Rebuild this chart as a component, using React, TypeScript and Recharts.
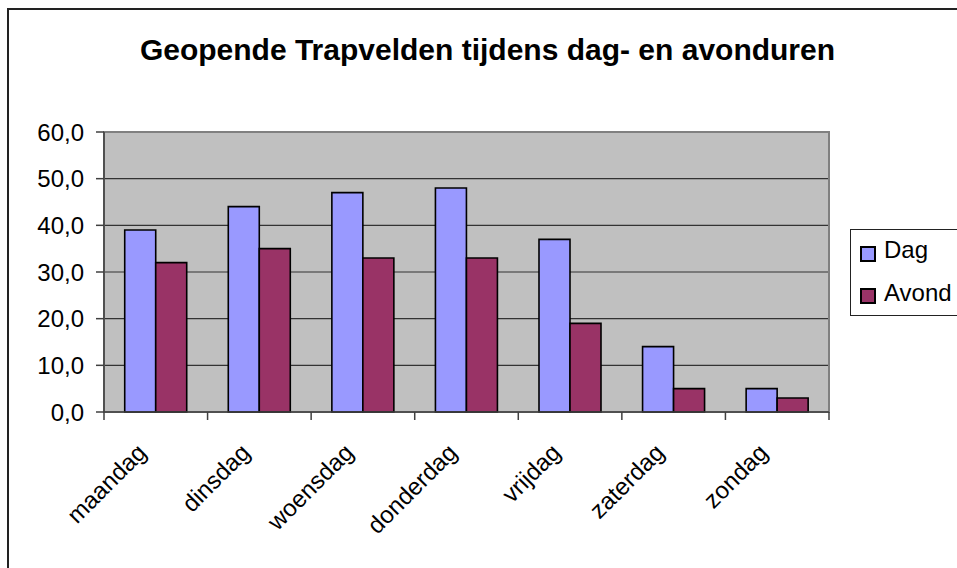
import React from "react";
import {
  BarChart,
  Bar,
  XAxis,
  YAxis,
  CartesianGrid,
  ReferenceArea,
} from "recharts";

const days = [
  "maandag",
  "dinsdag",
  "woensdag",
  "donderdag",
  "vrijdag",
  "zaterdag",
  "zondag",
];
const dagValues = [39, 44, 47, 48, 37, 14, 5];
const avondValues = [32, 35, 33, 33, 19, 5, 3];
const yTicks = [0, 10, 20, 30, 40, 50, 60];

const FONT = "'Liberation Sans', Arial, sans-serif";
const DAG_COLOR = "#9999FF";
const AVOND_COLOR = "#993366";

const rows = days.map((d, i) => ({
  dag: d,
  Dag: dagValues[i],
  Avond: avondValues[i],
}));

const DayTick = (props: any) => {
  const { x, y, payload } = props;
  const half = payload.offset || 0;
  const isLast = payload.value === days[days.length - 1];
  const tx = x - 8;
  const ty = y + 42;
  return (
    <g>
      <line x1={x - half} x2={x - half} y1={y} y2={y + 8} stroke="#404040" strokeWidth={1.5} />
      {isLast && (
        <line x1={x + half} x2={x + half} y1={y} y2={y + 8} stroke="#404040" strokeWidth={1.5} />
      )}
      <text
        x={tx}
        y={ty}
        textAnchor="end"
        fontSize={24}
        fontFamily={FONT}
        fill="#000"
        transform={`rotate(-45 ${tx} ${ty})`}
      >
        {payload.value}
      </text>
    </g>
  );
};

const fmt = (v: number) => v.toFixed(1).replace(".", ",");

export default function App() {
  return (
    <div
      style={{
        position: "relative",
        width: 957,
        height: 568,
        overflow: "hidden",
        background: "#fff",
        fontFamily: FONT,
      }}
    >
      <style>{"html,body{margin:0;padding:0;overflow:hidden;}"}</style>
      {/* chart frame, only top and left edges are in view */}
      <div
        style={{
          position: "absolute",
          left: 7,
          top: 8,
          width: 1200,
          height: 1200,
          border: "2px solid #222",
          boxSizing: "border-box",
        }}
      />
      <div
        style={{
          position: "absolute",
          left: 0,
          top: 34.6,
          width: 975,
          textAlign: "center",
          fontSize: 30,
          lineHeight: "30px",
          fontWeight: "bold",
          whiteSpace: "nowrap",
        }}
      >
        Geopende Trapvelden tijdens dag- en avonduren
      </div>
      <div style={{ position: "absolute", left: 0, top: 0 }}>
        <BarChart
          width={957}
          height={568}
          data={rows}
          margin={{ top: 132, right: 128, left: 0, bottom: 0 }}
          barCategoryGap="20%"
          barGap={0}
        >
          <CartesianGrid
            vertical={false}
            stroke="#333"
            strokeWidth={1.2}
            fill="#C0C0C0"
            fillOpacity={1}
          />
          <ReferenceArea y1={0} y2={60} fill="none" stroke="#808080" strokeWidth={2} />
          <XAxis
            dataKey="dag"
            height={156}
            interval={0}
            tickLine={false}
            tickSize={0}
            tickMargin={0}
            axisLine={{ stroke: "#404040", strokeWidth: 1.5 }}
            tick={<DayTick />}
          />
          <YAxis
            width={104}
            domain={[0, 60]}
            ticks={yTicks}
            interval={0}
            tickFormatter={fmt}
            tickSize={8}
            tickMargin={12}
            axisLine={{ stroke: "#404040", strokeWidth: 1.5 }}
            tickLine={{ stroke: "#404040", strokeWidth: 1.5 }}
            tick={{ fontSize: 24, fontFamily: FONT, fill: "#000" }}
          />
          <Bar dataKey="Dag" fill={DAG_COLOR} stroke="#000" strokeWidth={1.6} isAnimationActive={false} />
          <Bar dataKey="Avond" fill={AVOND_COLOR} stroke="#000" strokeWidth={1.6} isAnimationActive={false} />
        </BarChart>
      </div>
      {/* legend */}
      <div
        style={{
          position: "absolute",
          left: 850,
          top: 229,
          width: 130,
          height: 87,
          border: "1px solid #222",
          boxSizing: "border-box",
          background: "#fff",
          fontSize: 24,
          lineHeight: "24px",
        }}
      >
        {[
          { name: "Dag", color: DAG_COLOR, top: 15.7, textTop: 8 },
          { name: "Avond", color: AVOND_COLOR, top: 57.7, textTop: 50.7 },
        ].map((it) => (
          <React.Fragment key={it.name}>
            <div
              style={{
                position: "absolute",
                left: 9,
                top: it.top,
                width: 16,
                height: 16,
                background: it.color,
                border: "2px solid #000",
                boxSizing: "border-box",
              }}
            />
            <div style={{ position: "absolute", left: 33, top: it.textTop, whiteSpace: "nowrap" }}>
              {it.name}
            </div>
          </React.Fragment>
        ))}
      </div>
    </div>
  );
}
